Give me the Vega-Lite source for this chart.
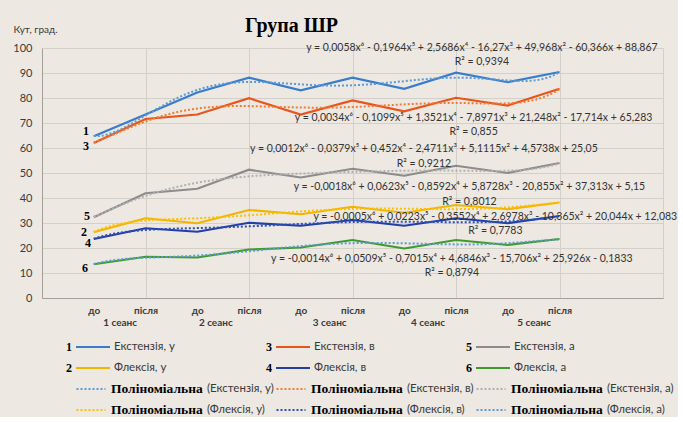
{
  "$schema": "https://vega.github.io/schema/vega-lite/v6.json",
  "background": "#ede8e1",
  "padding": {"left": 12, "top": 16, "right": 0, "bottom": 0},
  "spacing": 14,
  "config": {
    "view": {"stroke": null},
    "font": "Lato",
    "text": {"font": "Lato"}
  },
  "datasets": {
    "lines": [
      {"series": "Екстензія, у", "x": 1, "value": 64.7},
      {"series": "Екстензія, у", "x": 2, "value": 73.4},
      {"series": "Екстензія, у", "x": 3, "value": 82.2},
      {"series": "Екстензія, у", "x": 4, "value": 88.1},
      {"series": "Екстензія, у", "x": 5, "value": 83.1},
      {"series": "Екстензія, у", "x": 6, "value": 88.1},
      {"series": "Екстензія, у", "x": 7, "value": 83.7},
      {"series": "Екстензія, у", "x": 8, "value": 90.1},
      {"series": "Екстензія, у", "x": 9, "value": 86.3},
      {"series": "Екстензія, у", "x": 10, "value": 90.4},
      {"series": "Екстензія, в", "x": 1, "value": 62.0},
      {"series": "Екстензія, в", "x": 2, "value": 71.6},
      {"series": "Екстензія, в", "x": 3, "value": 73.4},
      {"series": "Екстензія, в", "x": 4, "value": 79.9},
      {"series": "Екстензія, в", "x": 5, "value": 73.4},
      {"series": "Екстензія, в", "x": 6, "value": 79.0},
      {"series": "Екстензія, в", "x": 7, "value": 74.7},
      {"series": "Екстензія, в", "x": 8, "value": 80.1},
      {"series": "Екстензія, в", "x": 9, "value": 77.0},
      {"series": "Екстензія, в", "x": 10, "value": 83.7},
      {"series": "Екстензія, а", "x": 1, "value": 32.3},
      {"series": "Екстензія, а", "x": 2, "value": 41.9},
      {"series": "Екстензія, а", "x": 3, "value": 43.7},
      {"series": "Екстензія, а", "x": 4, "value": 51.3},
      {"series": "Екстензія, а", "x": 5, "value": 48.2},
      {"series": "Екстензія, а", "x": 6, "value": 51.7},
      {"series": "Екстензія, а", "x": 7, "value": 48.9},
      {"series": "Екстензія, а", "x": 8, "value": 52.9},
      {"series": "Екстензія, а", "x": 9, "value": 50.0},
      {"series": "Екстензія, а", "x": 10, "value": 54.0},
      {"series": "Флексія, у", "x": 1, "value": 26.3},
      {"series": "Флексія, у", "x": 2, "value": 31.9},
      {"series": "Флексія, у", "x": 3, "value": 29.9},
      {"series": "Флексія, у", "x": 4, "value": 35.2},
      {"series": "Флексія, у", "x": 5, "value": 33.5},
      {"series": "Флексія, у", "x": 6, "value": 36.5},
      {"series": "Флексія, у", "x": 7, "value": 34.1},
      {"series": "Флексія, у", "x": 8, "value": 37.2},
      {"series": "Флексія, у", "x": 9, "value": 35.5},
      {"series": "Флексія, у", "x": 10, "value": 38.2},
      {"series": "Флексія, в", "x": 1, "value": 23.6},
      {"series": "Флексія, в", "x": 2, "value": 27.9},
      {"series": "Флексія, в", "x": 3, "value": 26.5},
      {"series": "Флексія, в", "x": 4, "value": 30.1},
      {"series": "Флексія, в", "x": 5, "value": 28.9},
      {"series": "Флексія, в", "x": 6, "value": 31.2},
      {"series": "Флексія, в", "x": 7, "value": 28.9},
      {"series": "Флексія, в", "x": 8, "value": 31.9},
      {"series": "Флексія, в", "x": 9, "value": 29.9},
      {"series": "Флексія, в", "x": 10, "value": 32.8},
      {"series": "Флексія, а", "x": 1, "value": 13.5},
      {"series": "Флексія, а", "x": 2, "value": 16.5},
      {"series": "Флексія, а", "x": 3, "value": 16.2},
      {"series": "Флексія, а", "x": 4, "value": 19.4},
      {"series": "Флексія, а", "x": 5, "value": 20.2},
      {"series": "Флексія, а", "x": 6, "value": 23.2},
      {"series": "Флексія, а", "x": 7, "value": 19.8},
      {"series": "Флексія, а", "x": 8, "value": 23.2},
      {"series": "Флексія, а", "x": 9, "value": 21.2},
      {"series": "Флексія, а", "x": 10, "value": 23.6}
    ],
    "eq": [
      {"x": 8.5, "value": 99.9, "text": "y = 0,0058x⁶ - 0,1964x⁵ + 2,5686x⁴ - 16,27x³ + 49,968x² - 60,366x + 88,867"},
      {"x": 8.5, "value": 94.3, "text": "R² = 0,9394"},
      {"x": 8.34, "value": 72.0, "text": "y = 0,0034x⁶ - 0,1099x⁵ + 1,3521x⁴ - 7,8971x³ + 21,248x² - 17,714x + 65,283"},
      {"x": 8.34, "value": 66.3, "text": "R² = 0,855"},
      {"x": 7.38, "value": 59.7, "text": "y = 0,0012x⁶ - 0,0379x⁵ + 0,452x⁴ - 2,4711x³ + 5,1115x² + 4,5738x + 25,05"},
      {"x": 7.38, "value": 53.6, "text": "R² = 0,9212"},
      {"x": 8.26, "value": 44.6, "text": "y = -0,0018x⁶ + 0,0623x⁵ - 0,8592x⁴ + 5,8728x³ - 20,855x² + 37,313x + 5,15"},
      {"x": 8.26, "value": 38.6, "text": "R² = 0,8012"},
      {"x": 8.76, "value": 32.5, "text": "y = -0,0005x⁶ + 0,0223x⁵ - 0,3552x⁴ + 2,6978x³ - 10,365x² + 20,044x + 12,083"},
      {"x": 8.76, "value": 26.9, "text": "R² = 0,7783"},
      {"x": 7.92, "value": 15.8, "text": "y = -0,0014x⁶ + 0,0509x⁵ - 0,7015x⁴ + 4,6846x³ - 15,706x² + 25,926x - 0,1833"},
      {"x": 7.92, "value": 10.0, "text": "R² = 0,8794"}
    ],
    "nums": [
      {"x": 0.85, "value": 66.9, "text": "1"},
      {"x": 0.85, "value": 60.9, "text": "3"},
      {"x": 0.87, "value": 32.9, "text": "5"},
      {"x": 0.81, "value": 26.5, "text": "2"},
      {"x": 0.89, "value": 22.1, "text": "4"},
      {"x": 0.83, "value": 12.2, "text": "6"}
    ],
    "legend": [
      {"kind": "line", "row": 0, "col": 0, "num": "1", "series": "Екстензія, у"},
      {"kind": "line", "row": 0, "col": 1, "num": "3", "series": "Екстензія, в"},
      {"kind": "line", "row": 0, "col": 2, "num": "5", "series": "Екстензія, а"},
      {"kind": "line", "row": 1, "col": 0, "num": "2", "series": "Флексія, у"},
      {"kind": "line", "row": 1, "col": 1, "num": "4", "series": "Флексія, в"},
      {"kind": "line", "row": 1, "col": 2, "num": "6", "series": "Флексія, а"},
      {"kind": "trend", "row": 2, "col": 0, "series": "Екстензія, у", "word": "Поліноміальна", "label": "(Екстензія, у)"},
      {"kind": "trend", "row": 2, "col": 1, "series": "Екстензія, в", "word": "Поліноміальна", "label": "(Екстензія, в)"},
      {"kind": "trend", "row": 2, "col": 2, "series": "Екстензія, а", "word": "Поліноміальна", "label": "(Екстензія, а)"},
      {"kind": "trend", "row": 3, "col": 0, "series": "Флексія, у", "word": "Поліноміальна", "label": "(Флексія, у)"},
      {"kind": "trend", "row": 3, "col": 1, "series": "Флексія, в", "word": "Поліноміальна", "label": "(Флексія, в)"},
      {"kind": "trend", "row": 3, "col": 2, "series": "Флексія, а", "word": "Поліноміальна", "label": "(Флексія, а)"}
    ]
  },
  "vconcat": [
    {
      "title": {
        "text": "Група ШР",
        "font": "Liberation Serif",
        "fontSize": 20,
        "fontWeight": "bold",
        "color": "#000000",
        "anchor": "middle",
        "frame": "group",
        "dx": -61,
        "offset": -12
      },
      "width": 621,
      "height": 250,
      "encoding": {
        "x": {
          "field": "x",
          "type": "quantitative",
          "scale": {"domain": [0, 12], "nice": false},
          "axis": {
            "title": null,
            "values": [1, 1.5, 2, 3, 3.35, 4, 5, 5.55, 6, 7, 7.45, 8, 9, 9.5, 10, 12],
            "labelExpr": "datum.value == 12 ? '' : datum.value % 1 != 0 ? ['', (datum.value < 2 ? '1' : datum.value < 4 ? '2' : datum.value < 6 ? '3' : datum.value < 8 ? '4' : '5') + ' сеанс'] : datum.value % 2 == 1 ? 'до' : 'після'",
            "grid": true,
            "gridColor": "#d3cfc9",
            "gridOpacity": {"condition": {"test": "datum.value % 2 == 0", "value": 1}, "value": 0},
            "ticks": false,
            "domainColor": "#a39f9a",
            "labelFontSize": 10,
            "labelFontWeight": "bold",
            "labelColor": "#3a3a3a",
            "labelPadding": 7,
            "labelLineHeight": 12,
            "labelOverlap": false,
            "labelFlush": false,
            "labelBound": false
          }
        },
        "y": {
          "field": "value",
          "type": "quantitative",
          "scale": {"domain": [0, 100], "nice": false},
          "axis": {
            "title": "Кут, град.",
            "titleAngle": 0,
            "titleAlign": "left",
            "titleBaseline": "middle",
            "titleX": -29,
            "titleY": -19,
            "titleFontSize": 10,
            "titleFontWeight": "normal",
            "titleColor": "#3a3a3a",
            "values": [0, 10, 20, 30, 40, 50, 60, 70, 80, 90, 100],
            "grid": true,
            "gridColor": "#d3cfc9",
            "ticks": false,
            "domainColor": "#a39f9a",
            "labelFontSize": 11,
            "labelColor": "#3a3a3a",
            "labelPadding": 10
          }
        }
      },
      "layer": [
        {
          "data": {"name": "lines"},
          "mark": {"type": "line", "strokeWidth": 2.2},
          "encoding": {
            "color": {
              "field": "series",
              "type": "nominal",
              "scale": {
                "domain": ["Екстензія, у", "Екстензія, в", "Екстензія, а", "Флексія, у", "Флексія, в", "Флексія, а"],
                "range": ["#3a7ccc", "#e9541c", "#8c8c8c", "#f1b500", "#213fa6", "#3f9a2c"]
              },
              "legend": null
            }
          }
        },
        {
          "data": {"name": "lines"},
          "transform": [
            {"regression": "value", "on": "x", "groupby": ["series"], "method": "poly", "order": 6, "extent": [1, 10]}
          ],
          "mark": {"type": "line", "strokeWidth": 2, "strokeDash": [2, 2]},
          "encoding": {
            "color": {
              "field": "series",
              "type": "nominal",
              "scale": {
                "domain": ["Екстензія, у", "Екстензія, в", "Екстензія, а", "Флексія, у", "Флексія, в", "Флексія, а"],
                "range": ["#5b9bd5", "#ed7d31", "#b0b0b0", "#ffc000", "#2f4fb5", "#5b9bd5"]
              },
              "legend": null
            }
          }
        },
        {
          "data": {"name": "eq"},
          "mark": {"type": "text", "fontSize": 10.5, "color": "#333333", "align": "center", "baseline": "middle"},
          "encoding": {"text": {"field": "text"}}
        },
        {
          "data": {"name": "nums"},
          "mark": {"type": "text", "font": "Liberation Serif", "fontWeight": "bold", "fontSize": 12, "color": "#000000", "align": "center", "baseline": "middle"},
          "encoding": {"text": {"field": "text"}}
        }
      ],
      "resolve": {"scale": {"color": "independent"}}
    },
    {
      "width": 600,
      "height": 63,
      "data": {"name": "legend"},
      "encoding": {
        "x": {"field": "col", "type": "quantitative", "scale": {"domain": [-0.135, 2.865], "nice": false, "zero": false}, "axis": null},
        "y": {"field": "row", "type": "quantitative", "scale": {"domain": [0, 3], "reverse": true, "nice": false}, "axis": null}
      },
      "layer": [
        {
          "transform": [{"filter": "datum.kind == 'line'"}],
          "mark": {"type": "text", "font": "Liberation Serif", "fontWeight": "bold", "fontSize": 12, "color": "#000000", "align": "center", "baseline": "middle"},
          "encoding": {"text": {"field": "num"}}
        },
        {
          "transform": [{"filter": "datum.kind == 'line'"}],
          "mark": {"type": "point", "shape": "stroke", "filled": false, "size": 1156, "strokeWidth": 2, "opacity": 1, "xOffset": 24},
          "encoding": {
            "color": {
              "field": "series",
              "type": "nominal",
              "scale": {
                "domain": ["Екстензія, у", "Екстензія, в", "Екстензія, а", "Флексія, у", "Флексія, в", "Флексія, а"],
                "range": ["#3a7ccc", "#e9541c", "#8c8c8c", "#f1b500", "#213fa6", "#3f9a2c"]
              },
              "legend": null
            }
          }
        },
        {
          "transform": [{"filter": "datum.kind == 'line'"}],
          "mark": {"type": "text", "fontSize": 11.5, "color": "#3a3a3a", "align": "left", "baseline": "middle", "dx": 45},
          "encoding": {"text": {"field": "series"}}
        },
        {
          "transform": [{"filter": "datum.kind == 'trend'"}],
          "mark": {"type": "point", "shape": "stroke", "filled": false, "size": 841, "strokeWidth": 2, "strokeDash": [2, 2], "opacity": 1, "xOffset": 22},
          "encoding": {
            "color": {
              "field": "series",
              "type": "nominal",
              "scale": {
                "domain": ["Екстензія, у", "Екстензія, в", "Екстензія, а", "Флексія, у", "Флексія, в", "Флексія, а"],
                "range": ["#5b9bd5", "#ed7d31", "#b0b0b0", "#ffc000", "#2f4fb5", "#5b9bd5"]
              },
              "legend": null
            }
          }
        },
        {
          "transform": [{"filter": "datum.kind == 'trend'"}],
          "mark": {"type": "text", "font": "Liberation Serif", "fontWeight": "bold", "fontSize": 13.5, "color": "#000000", "align": "left", "baseline": "middle", "dx": 42},
          "encoding": {"text": {"field": "word"}}
        },
        {
          "transform": [{"filter": "datum.kind == 'trend'"}],
          "mark": {"type": "text", "fontSize": 11.5, "color": "#3a3a3a", "align": "left", "baseline": "middle", "dx": 138},
          "encoding": {"text": {"field": "label"}}
        }
      ],
      "resolve": {"scale": {"color": "independent"}}
    }
  ]
}
